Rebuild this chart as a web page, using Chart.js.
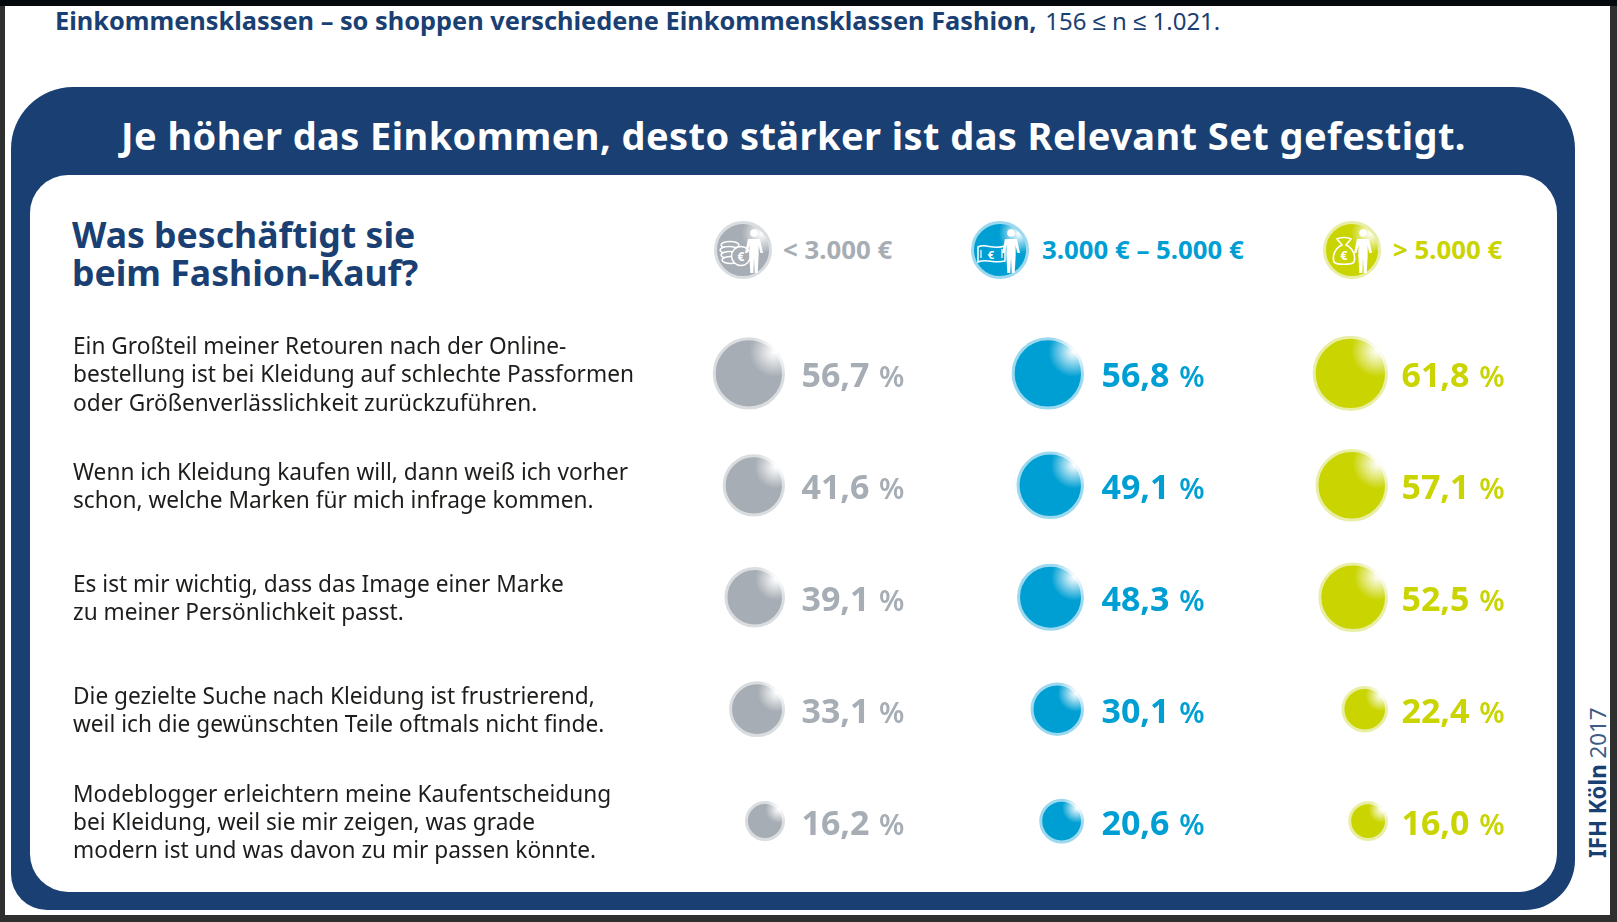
<!DOCTYPE html>
<html lang="de">
<head>
<meta charset="utf-8">
<title>Einkommensklassen Fashion</title>
<script src="https://cdn.jsdelivr.net/npm/chart.js@4/dist/chart.umd.js"></script>
<style>
  html, body { margin: 0; padding: 0; width: 1617px; height: 922px; overflow: hidden; background: #2f2f2f; font-family: "Noto Sans", sans-serif; }
  #sheet { position: absolute; left: 5px; top: 6px; width: 1605px; height: 909px; background: #fff; }
  #topbar { position: absolute; left: 0; top: 0; width: 1617px; height: 6px; background: #05090c; }
  #panel { position: absolute; left: 11px; top: 87px; width: 1564px; height: 823px; background: #1a3f72; border-radius: 62px 62px 50px 36px; }
  #card { position: absolute; left: 30px; top: 175px; width: 1527px; height: 717px; background: #fff; border-radius: 38px; }
  .txt { position: absolute; white-space: nowrap; transform-origin: left center; }
  #topline { left: 55px; top: 4px; font-size: 25.35px; line-height: 32px; font-weight: 700; color: #1a3f72; }
  #topline span { font-weight: 400; font-size: 24px; margin-left: 2px; }
  #headline { left: 121px; top: 110px; font-size: 38px; line-height: 50px; font-weight: 700; color: #fff; letter-spacing: 0.42px; }
  #question { left: 72px; top: 215px; font-size: 35.6px; line-height: 38px; font-weight: 700; color: #1a3f72; }
  #source { position: absolute; left: 1585px; top: 704px; height: 154px; writing-mode: vertical-rl; transform: rotate(180deg); font-size: 22.3px; line-height: 26px; color: #1a3f72; white-space: nowrap; text-align: left; }
  #source b { font-weight: 700; }
  #source span { color: #3d5c85; }
  .head { position: absolute; top: 233px; font-size: 25.8px; line-height: 32px; font-weight: 700; white-space: nowrap; transform-origin: left center; }
  .icon { position: absolute; top: 220px; width: 60px; height: 60px; }
  canvas { position: absolute; left: 0; top: 0; }
</style>
</head>
<body>
<div id="topbar"></div>
<div id="sheet"></div>
<div id="panel"></div>
<div id="card"></div>
<div class="txt" id="topline">Einkommensklassen – so shoppen verschiedene Einkommensklassen Fashion, <span>156 ≤ n ≤ 1.021.</span></div>
<div class="txt" id="headline">Je höher das Einkommen, desto stärker ist das Relevant Set gefestigt.</div>
<div class="txt" id="question">Was beschäftigt sie<br>beim Fashion-Kauf?</div>
<div id="source"><b>IFH Köln</b> <span>2017</span></div>
<div id="heads"></div>
<canvas id="chart" width="1617" height="922"></canvas>

<script>
const statements = [
  ["Ein Großteil meiner Retouren nach der Online-", "bestellung ist bei Kleidung auf schlechte Passformen", "oder Größenverlässlichkeit zurückzuführen."],
  ["Wenn ich Kleidung kaufen will, dann weiß ich vorher", "schon, welche Marken für mich infrage kommen."],
  ["Es ist mir wichtig, dass das Image einer Marke", "zu meiner Persönlichkeit passt."],
  ["Die gezielte Suche nach Kleidung ist frustrierend,", "weil ich die gewünschten Teile oftmals nicht finde."],
  ["Modeblogger erleichtern meine Kaufentscheidung", "bei Kleidung, weil sie mir zeigen, was grade", "modern ist und was davon zu mir passen könnte."],
];
const incomeClasses = ["< 3.000 €", "3.000 € – 5.000 €", "> 5.000 €"];
const lowIncome = [56.7, 41.6, 39.1, 33.1, 16.2];
const midIncome = [56.8, 49.1, 48.3, 30.1, 20.6];
const highIncome = [61.8, 57.1, 52.5, 22.4, 16.0];

const colors = ["#a6adb4", "#009fd3", "#c9d400"];
const rings = ["#dadde0", "#9cd8ee", "#e8eea6"];

const COL_GAP = 300; // distance between the number columns
const bubbleEdge = [0, 299, 603]; // bubbles in a column line up on their right edge
const ROW_GAP = 112;
const bubbleRadius = (v) => 4.6 * Math.sqrt(v); // area follows the value

// header row with the little icons
const headX = [713, 970, 1322];
const headTextX = [783, 1042, 1393];
const euro = (x, y, size) => `<text x="${x}" y="${y}" font-size="${size}" font-weight="700" fill="#fff" text-anchor="middle" font-family="Noto Sans">€</text>`;
const iconParts = [
  // coins
  `<g fill="COLOR" stroke="#fff" stroke-width="1.5"><ellipse cx="17" cy="25" rx="9" ry="3.6"/><ellipse cx="16" cy="30" rx="9" ry="3.6"/><ellipse cx="17" cy="35" rx="9" ry="3.6"/><ellipse cx="18" cy="40" rx="9" ry="3.6"/><circle cx="28" cy="36" r="9.5"/></g>${euro(28, 40.5, 12)}`,
  // bank note
  `<path d="M8 27c8 -4 14 3 27 -1v15c-11 3 -19 -3 -27 1z" fill="COLOR" stroke="#fff" stroke-width="1.5"/><path d="M11 30v8M32 29v9" stroke="#fff" stroke-width="1.2"/>${euro(21, 39, 11)}`,
  // money bag
  `<path d="M20 25l-5 -6c3 -2 11 -2 14 0l-5 6c7 3 10 11 8 17c-2 3 -18 3 -20 0c-2 -6 1 -14 8 -17z" fill="COLOR" stroke="#fff" stroke-width="1.6"/>${euro(22, 40, 12)}`,
];
const person = '<circle cx="41" cy="13" r="3.8" fill="#fff"/><path d="M35 19h12l3 14h-2.5l-2 -8l.2 10l-1 18h-3l-.7 -15l-.7 15h-3l-1 -18l.2 -10l-2 8h-2.5z" fill="#fff"/>';
const heads = document.getElementById("heads");
incomeClasses.forEach((label, i) => {
  heads.innerHTML += `
    <svg class="icon" style="left:${headX[i]}px" viewBox="0 0 60 60">
      <defs><radialGradient id="hg${i}" cx="0.84" cy="0.2" r="0.36">
        <stop offset="0" stop-color="#fff"/><stop offset="1" stop-color="${colors[i]}"/>
      </radialGradient></defs>
      <circle cx="30" cy="30" r="27.5" fill="url(#hg${i})" stroke="${rings[i]}" stroke-width="3"/>
      ${iconParts[i].replace(/COLOR/g, colors[i])}${person}
    </svg>
    <div class="head" style="left:${headTextX[i]}px;color:${colors[i]}">${label.replace("<", "&lt;").replace(">", "&gt;")}</div>`;
});

// white shine in the upper right of every bubble
const shine = (ctx, i, base) => {
  const raw = ctx.raw;
  if (!raw) return base;
  const px = ctx.chart.scales.x.getPixelForValue(raw.x);
  const py = ctx.chart.scales.y.getPixelForValue(raw.y);
  if (!isFinite(px) || !isFinite(py)) return base;
  const hx = px + raw.r * 0.74;
  const hy = py - raw.r * 0.62;
  const g = ctx.chart.ctx.createRadialGradient(hx, hy, 0, hx, hy, raw.r * 0.72);
  g.addColorStop(0, "#ffffff");
  g.addColorStop(1, base);
  return g;
};

const toPoints = (values, col) =>
  values.map((v, row) => ({ x: bubbleEdge[col] - bubbleRadius(v), y: row, r: bubbleRadius(v), value: v }));

// numbers next to the bubbles
const valueLabels = {
  id: "valueLabels",
  afterDatasetsDraw(chart) {
    const { ctx, scales } = chart;
    chart.data.datasets.forEach((ds, col) => {
      ds.data.forEach((p) => {
        const x = scales.x.getPixelForValue(col * COL_GAP);
        const y = scales.y.getPixelForValue(p.y) + 14;
        ctx.save();
        ctx.fillStyle = colors[col];
        ctx.textAlign = "right";
        ctx.textBaseline = "alphabetic";
        ctx.font = '700 34px "Noto Sans"';
        ctx.fillText(p.value.toFixed(1).replace(".", ","), x + 86, y);
        ctx.font = '600 29px "Noto Sans"';
        ctx.fillText("%", x + 121, y);
        ctx.restore();
      });
    });
  },
};

new Chart(document.getElementById("chart"), {
  type: "bubble",
  data: {
    datasets: [lowIncome, midIncome, highIncome].map((values, i) => ({
      label: incomeClasses[i],
      data: toPoints(values, i),
      backgroundColor: (ctx) => shine(ctx, i, colors[i]),
      borderColor: (ctx) => shine(ctx, i, rings[i]),
      borderWidth: 3,
      yAxisID: "y",
    })),
  },
  options: {
    responsive: false,
    animation: false,
    layout: { padding: { left: 73, top: 300, right: 77, bottom: 42 } },
    plugins: { legend: { display: false }, tooltip: { enabled: false } },
    scales: {
      x: {
        type: "linear",
        min: -133.5,
        max: 756.5,
        display: false,
      },
      y: {
        type: "linear",
        reverse: true,
        min: -73.5 / ROW_GAP,
        max: 506.5 / ROW_GAP,
        display: false,
      },
      // statements sit a few pixels below the bubble centres, so they get their own axis
      rows: {
        type: "linear",
        position: "left",
        reverse: true,
        min: -76 / ROW_GAP,
        max: 504 / ROW_GAP,
        afterFit: (axis) => { axis.width = 577; },
        afterBuildTicks: (axis) => { axis.ticks = statements.map((_, i) => ({ value: i })); },
        grid: { display: false },
        border: { display: false },
        ticks: {
          autoSkip: false,
          crossAlign: "far",
          padding: 0,
          color: "#1d1d1b",
          font: { family: '"Noto Sans"', size: 22.66, lineHeight: 1.25 },
          callback: (v) => statements[v] || "",
        },
      },
    },
  },
  plugins: [valueLabels],
});
</script>
</body>
</html>
